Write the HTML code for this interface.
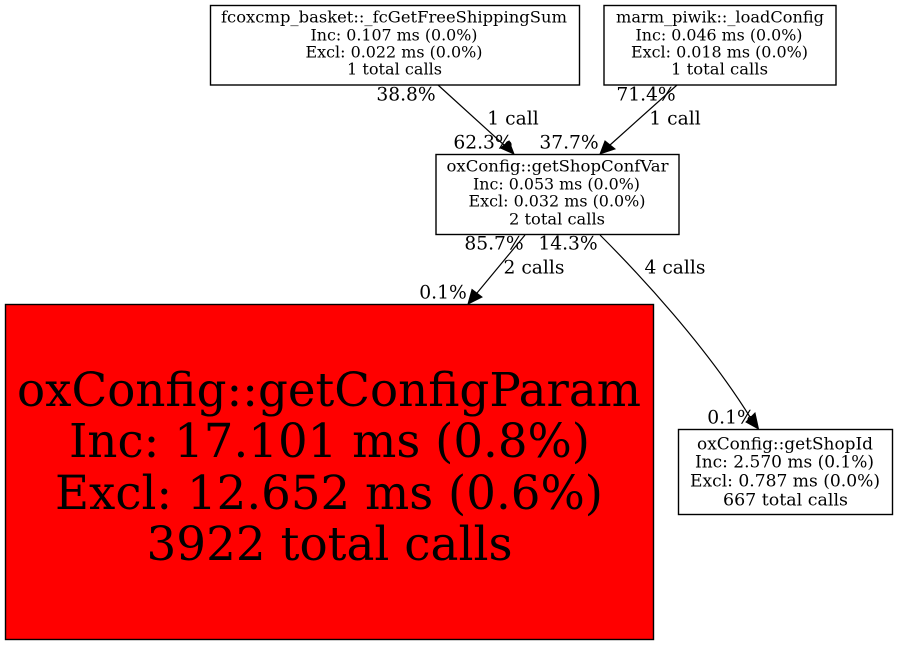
<!DOCTYPE html>
<html><head><meta charset="utf-8"><style>
html,body{margin:0;padding:0;background:#fff;width:897px;height:645px;overflow:hidden}
svg{display:block}
text{font-family:"DejaVu Serif",serif;fill:#000;text-anchor:middle}
.s{font-size:15.8px}.l{font-size:18.7px}.k{font-size:16.8px}
.b{font-size:46.9px}
rect{stroke:#000;stroke-width:1.4}
path{fill:none;stroke:#000;stroke-width:1.2}
polygon{fill:#000;stroke:#000}
</style></head><body>
<svg width="897" height="645" viewBox="0 0 897 645" xmlns="http://www.w3.org/2000/svg">
<rect x="210.500" y="5.500" width="369" height="79.500" fill="#fff"/>
<text class="s" x="394" y="22.700" textLength="346" lengthAdjust="spacingAndGlyphs">fcoxcmp_basket::_fcGetFreeShippingSum</text>
<text class="s" x="394" y="40.500" textLength="167" lengthAdjust="spacingAndGlyphs">Inc: 0.107 ms (0.0%)</text>
<text class="s" x="394" y="57.500" textLength="177" lengthAdjust="spacingAndGlyphs">Excl: 0.022 ms (0.0%)</text>
<text class="s" x="394.500" y="74.700" textLength="95" lengthAdjust="spacingAndGlyphs">1 total calls</text>
<rect x="604" y="5.500" width="232" height="79.500" fill="#fff"/>
<text class="s" x="720" y="22.700" textLength="208" lengthAdjust="spacingAndGlyphs">marm_piwik::_loadConfig</text>
<text class="s" x="719" y="40.500" textLength="167" lengthAdjust="spacingAndGlyphs">Inc: 0.046 ms (0.0%)</text>
<text class="s" x="719.500" y="57.500" textLength="177" lengthAdjust="spacingAndGlyphs">Excl: 0.018 ms (0.0%)</text>
<text class="s" x="719.500" y="74.700" textLength="97" lengthAdjust="spacingAndGlyphs">1 total calls</text>
<rect x="436" y="154.500" width="243" height="80" fill="#fff"/>
<text class="s" x="557.500" y="171.700" textLength="222" lengthAdjust="spacingAndGlyphs">oxConfig::getShopConfVar</text>
<text class="s" x="556.500" y="189.500" textLength="167" lengthAdjust="spacingAndGlyphs">Inc: 0.053 ms (0.0%)</text>
<text class="s" x="557" y="206.700" textLength="177" lengthAdjust="spacingAndGlyphs">Excl: 0.032 ms (0.0%)</text>
<text class="s" x="557" y="224.700" textLength="96" lengthAdjust="spacingAndGlyphs">2 total calls</text>
<rect x="5.500" y="304.500" width="648" height="335" fill="#f00"/>
<text class="b" x="329" y="406" textLength="624" lengthAdjust="spacingAndGlyphs">oxConfig::getConfigParam</text>
<text class="b" x="329.500" y="457" textLength="521" lengthAdjust="spacingAndGlyphs">Inc: 17.101 ms (0.8%)</text>
<text class="b" x="329" y="509" textLength="548" lengthAdjust="spacingAndGlyphs">Excl: 12.652 ms (0.6%)</text>
<text class="b" x="329.500" y="560" textLength="366" lengthAdjust="spacingAndGlyphs">3922 total calls</text>
<rect x="678.500" y="429.500" width="214" height="85" fill="#fff"/>
<text class="k" x="785" y="449.500" textLength="176" lengthAdjust="spacingAndGlyphs">oxConfig::getShopId</text>
<text class="k" x="784.500" y="467.500" textLength="179" lengthAdjust="spacingAndGlyphs">Inc: 2.570 ms (0.1%)</text>
<text class="k" x="785" y="486.500" textLength="190" lengthAdjust="spacingAndGlyphs">Excl: 0.787 ms (0.0%)</text>
<text class="k" x="785.500" y="505.500" textLength="125" lengthAdjust="spacingAndGlyphs">667 total calls</text>
<path d="M438 85L504 145"/>
<polygon points="514,154 500.500,148 509,141"/>
<path d="M677 85L610 145"/>
<polygon points="600,154 605,141 615,149"/>
<path d="M525 235L477 293"/>
<polygon points="468,304 472,289.500 482,297"/>
<path d="M600 235C640 275 705 345 750 417"/>
<polygon points="758.500,429 746,422 755,413"/>
<text class="l" x="406" y="100.700">38.8%</text>
<text class="l" x="513" y="124.700">1 call</text>
<text class="l" x="483" y="148.700">62.3%</text>
<text class="l" x="569" y="148.700">37.7%</text>
<text class="l" x="646" y="100.700">71.4%</text>
<text class="l" x="675" y="124.700">1 call</text>
<text class="l" x="494" y="249.700">85.7%</text>
<text class="l" x="568" y="249.700">14.3%</text>
<text class="l" x="534" y="273.700">2 calls</text>
<text class="l" x="675" y="273.700">4 calls</text>
<text class="l" x="443" y="298.700">0.1%</text>
<text class="l" x="731" y="423.700">0.1%</text>
</svg>
</body></html>
